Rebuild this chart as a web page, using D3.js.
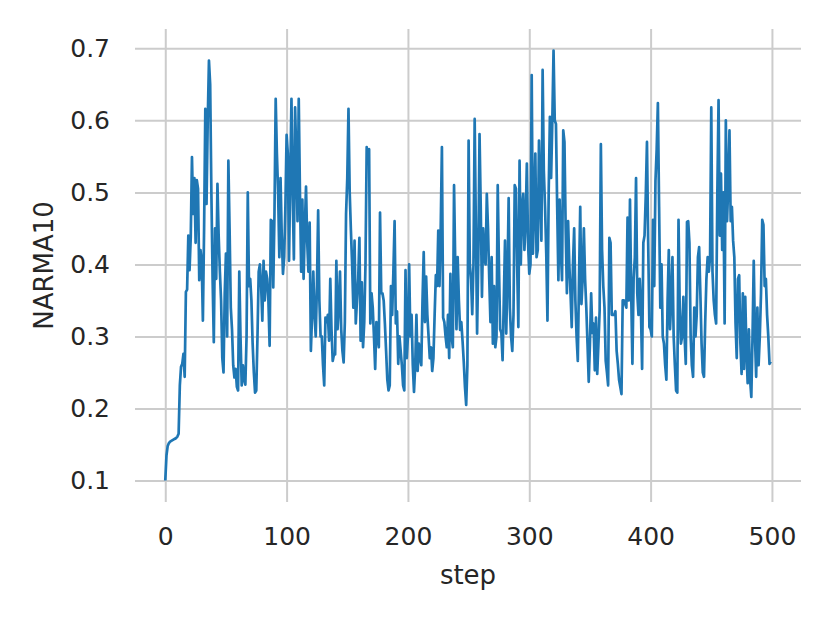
<!DOCTYPE html>
<html>
<head>
<meta charset="utf-8">
<script src="https://cdn.jsdelivr.net/npm/d3@7"></script>
<style>
  body { margin: 0; background: #fff; }
  text { font-family: "DejaVu Sans", sans-serif; fill: #262626; }
</style>
</head>
<body>
<div id="my_dataviz"></div>
<script>
// NARMA10 series (0..499)
var narma = [
  0.100, 0.135, 0.148, 0.152, 0.154, 0.155, 0.156, 0.157, 0.158, 0.159,
  0.161, 0.165, 0.232, 0.258, 0.262, 0.276, 0.244, 0.362, 0.365, 0.440,
  0.392, 0.438, 0.549, 0.470, 0.520, 0.430, 0.517, 0.505, 0.378, 0.420,
  0.405, 0.322, 0.450, 0.616, 0.484, 0.600, 0.683, 0.650, 0.500, 0.380,
  0.292, 0.450, 0.380, 0.512, 0.440, 0.390, 0.350, 0.270, 0.250, 0.360,
  0.415, 0.300, 0.544, 0.450, 0.340, 0.310, 0.260, 0.243, 0.255, 0.230,
  0.225, 0.390, 0.300, 0.232, 0.260, 0.240, 0.233, 0.300, 0.500, 0.370,
  0.380, 0.350, 0.290, 0.250, 0.222, 0.225, 0.300, 0.390, 0.400, 0.370,
  0.322, 0.405, 0.350, 0.390, 0.380, 0.350, 0.287, 0.462, 0.460, 0.368,
  0.470, 0.630, 0.554, 0.500, 0.410, 0.520, 0.440, 0.387, 0.410, 0.480,
  0.580, 0.554, 0.405, 0.520, 0.630, 0.500, 0.407, 0.618, 0.550, 0.460,
  0.630, 0.500, 0.390, 0.490, 0.380, 0.450, 0.508, 0.430, 0.390, 0.458,
  0.280, 0.330, 0.390, 0.330, 0.300, 0.370, 0.475, 0.350, 0.300, 0.300,
  0.260, 0.232, 0.326, 0.320, 0.330, 0.294, 0.380, 0.310, 0.266, 0.275,
  0.275, 0.405, 0.310, 0.340, 0.390, 0.310, 0.280, 0.264, 0.320, 0.470,
  0.520, 0.616, 0.500, 0.447, 0.400, 0.340, 0.433, 0.318, 0.350, 0.380,
  0.437, 0.294, 0.375, 0.285, 0.320, 0.400, 0.563, 0.540, 0.560, 0.318,
  0.360, 0.340, 0.300, 0.255, 0.320, 0.300, 0.285, 0.472, 0.360, 0.360,
  0.350, 0.318, 0.280, 0.240, 0.225, 0.232, 0.370, 0.330, 0.390, 0.460,
  0.318, 0.335, 0.262, 0.300, 0.280, 0.260, 0.232, 0.225, 0.392, 0.270,
  0.300, 0.400, 0.300, 0.330, 0.260, 0.223, 0.260, 0.330, 0.252, 0.290,
  0.270, 0.260, 0.350, 0.417, 0.320, 0.383, 0.330, 0.300, 0.270, 0.285,
  0.252, 0.270, 0.330, 0.385, 0.370, 0.447, 0.370, 0.450, 0.563, 0.326,
  0.320, 0.300, 0.285, 0.330, 0.270, 0.387, 0.300, 0.285, 0.510, 0.400,
  0.310, 0.410, 0.350, 0.309, 0.320, 0.294, 0.265, 0.230, 0.205, 0.260,
  0.572, 0.400, 0.380, 0.331, 0.400, 0.602, 0.450, 0.304, 0.410, 0.581,
  0.480, 0.355, 0.450, 0.410, 0.400, 0.498, 0.450, 0.380, 0.320, 0.410,
  0.290, 0.370, 0.285, 0.300, 0.510, 0.400, 0.310, 0.305, 0.267, 0.350,
  0.433, 0.304, 0.380, 0.492, 0.340, 0.300, 0.280, 0.330, 0.510, 0.505,
  0.400, 0.313, 0.544, 0.400, 0.480, 0.498, 0.420, 0.460, 0.540, 0.430,
  0.387, 0.400, 0.663, 0.415, 0.480, 0.554, 0.410, 0.420, 0.572, 0.498,
  0.433, 0.670, 0.530, 0.480, 0.415, 0.322, 0.500, 0.605, 0.520, 0.600,
  0.697, 0.600, 0.595, 0.480, 0.378, 0.490, 0.420, 0.378, 0.586, 0.570,
  0.450, 0.360, 0.460, 0.400, 0.360, 0.313, 0.400, 0.450, 0.350, 0.300,
  0.266, 0.380, 0.480, 0.345, 0.380, 0.450, 0.380, 0.340, 0.290, 0.237,
  0.290, 0.360, 0.305, 0.318, 0.253, 0.326, 0.248, 0.290, 0.336, 0.567,
  0.420, 0.370, 0.340, 0.266, 0.250, 0.232, 0.437, 0.430, 0.330, 0.330,
  0.330, 0.335, 0.280, 0.262, 0.240, 0.230, 0.220, 0.350, 0.350, 0.345,
  0.340, 0.465, 0.350, 0.490, 0.360, 0.262, 0.380, 0.410, 0.520, 0.360,
  0.330, 0.380, 0.340, 0.255, 0.430, 0.440, 0.495, 0.570, 0.430, 0.313,
  0.310, 0.300, 0.462, 0.370, 0.516, 0.560, 0.624, 0.480, 0.340, 0.400,
  0.300, 0.290, 0.260, 0.240, 0.350, 0.420, 0.310, 0.350, 0.410, 0.300,
  0.260, 0.225, 0.222, 0.462, 0.340, 0.290, 0.300, 0.355, 0.300, 0.262,
  0.459, 0.460, 0.430, 0.300, 0.260, 0.244, 0.340, 0.300, 0.330, 0.410,
  0.424, 0.360, 0.290, 0.250, 0.244, 0.320, 0.380, 0.410, 0.390, 0.410,
  0.618, 0.390, 0.350, 0.330, 0.318, 0.500, 0.628, 0.440, 0.526, 0.420,
  0.500, 0.318, 0.600, 0.460, 0.510, 0.586, 0.460, 0.480, 0.433, 0.410,
  0.318, 0.270, 0.380, 0.385, 0.290, 0.248, 0.360, 0.255, 0.355, 0.280,
  0.235, 0.310, 0.240, 0.216, 0.300, 0.405, 0.300, 0.244, 0.340, 0.260,
  0.300, 0.360, 0.462, 0.455, 0.370, 0.380, 0.330, 0.300, 0.262, 0.265
];

var xTicks = [0, 100, 200, 300, 400, 500];
var yTicks = [0.1, 0.2, 0.3, 0.4, 0.5, 0.6, 0.7];

var xLabel = "step";
var yLabel = "NARMA10";

// figure and axes box
var W = 830, H = 623;
var margin = { top: 29, right: 29, bottom: 121, left: 135 };
var width = W - margin.left - margin.right,
    height = H - margin.top - margin.bottom;

var svg = d3.select("#my_dataviz")
  .append("svg")
  .attr("width", W)
  .attr("height", H)
  .append("g")
  .attr("transform", "translate(" + margin.left + "," + margin.top + ")");

// 5% padding like matplotlib
var xpad = (narma.length - 1) * 0.05;
var x = d3.scaleLinear()
  .domain([-xpad, narma.length - 1 + xpad])
  .range([0, width]);

var ymin = d3.min(narma), ymax = d3.max(narma);
var ypad = (ymax - ymin) * 0.05;
var y = d3.scaleLinear()
  .domain([ymin - ypad, ymax + ypad])
  .range([height, 0]);

// gridlines
svg.append("g")
  .call(d3.axisBottom(x).tickValues(xTicks).tickSize(height).tickFormat(""))
  .call(function(g) { g.select(".domain").remove(); })
  .selectAll("line")
  .attr("stroke", "#cccccc")
  .attr("stroke-width", 2);

svg.append("g")
  .call(d3.axisLeft(y).tickValues(yTicks).tickSize(-width).tickFormat(""))
  .call(function(g) { g.select(".domain").remove(); })
  .selectAll("line")
  .attr("stroke", "#cccccc")
  .attr("stroke-width", 2);

// tick labels
svg.append("g")
  .attr("transform", "translate(0," + height + ")")
  .call(d3.axisBottom(x).tickValues(xTicks).tickSize(0).tickPadding(25).tickFormat(d3.format("d")))
  .call(function(g) { g.select(".domain").remove(); })
  .selectAll("text")
  .style("font-size", "25px")
  .attr("fill", "#262626");

svg.append("g")
  .call(d3.axisLeft(y).tickValues(yTicks).tickSize(0).tickPadding(25).tickFormat(d3.format(".1f")))
  .call(function(g) { g.select(".domain").remove(); })
  .selectAll("text")
  .style("font-size", "25px")
  .attr("fill", "#262626");

// axis titles
svg.append("text")
  .attr("x", width / 2)
  .attr("y", height + 82)
  .style("text-anchor", "middle")
  .style("font-size", "26px")
  .text(xLabel);

svg.append("text")
  .attr("transform", "rotate(-90)")
  .attr("x", -height / 2)
  .attr("y", -82)
  .style("text-anchor", "middle")
  .style("font-size", "26px")
  .text(yLabel);

// the series
var line = d3.line()
  .x(function(d, i) { return x(i); })
  .y(function(d) { return y(d); });

svg.append("path")
  .datum(narma)
  .attr("fill", "none")
  .attr("stroke", "#1f77b4")
  .attr("stroke-width", 2.7)
  .attr("stroke-linejoin", "round")
  .attr("d", line);
</script>
</body>
</html>
